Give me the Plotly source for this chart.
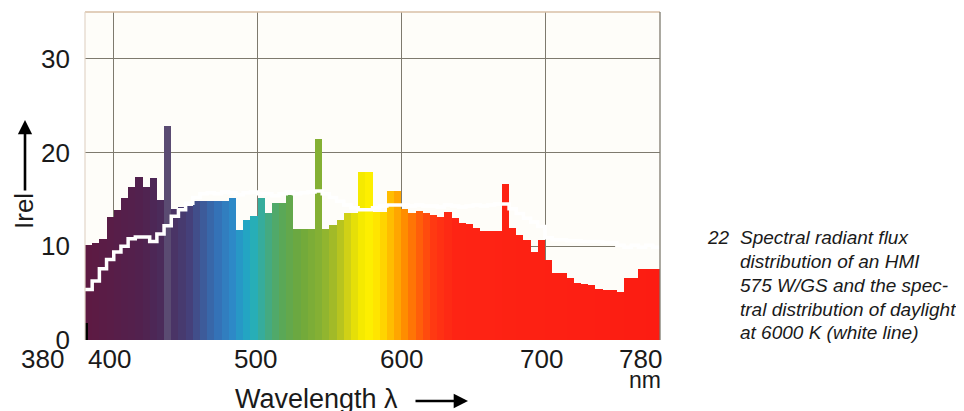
import plotly.graph_objects as go

# ---------------- data ----------------
bin_start = list(range(380, 780, 5))          # 5 nm bins, 380 ... 775
hmi = [10.1, 10.4, 10.8, 13.1, 13.9, 15.2, 16.3, 17.4, 16.3, 17.3,
       14.9, 22.8, 14.0, 14.2, 14.3, 14.8, 14.8, 14.8, 14.8, 14.8,
       15.1, 11.7, 12.8, 13.2, 15.1, 13.5, 14.6, 14.6, 15.5, 11.8,
       11.8, 11.8, 21.4, 11.8, 12.3, 12.8, 13.5, 13.5, 17.9, 17.9,
       13.7, 13.7, 15.9, 15.9, 14.0, 13.6, 13.8, 13.6, 13.3, 13.1,
       13.7, 13.0, 12.5, 12.4, 11.9, 11.6, 11.6, 11.6, 16.6, 12.0,
       11.2, 10.7, 9.4, 10.7, 8.5, 7.1, 7.1, 6.6, 6.1, 6.0,
       5.9, 5.4, 5.3, 5.3, 5.1, 6.6, 6.6, 7.6, 7.6, 7.6]
daylight = [5.4, 6.3, 7.6, 8.6, 9.4, 10.0, 10.8, 11.0, 11.0, 10.5,
            11.3, 12.2, 13.2, 13.9, 14.6, 15.2, 15.6, 15.7, 15.6, 15.8,
            15.7, 15.5, 15.7, 15.8, 15.6, 15.6, 15.4, 15.6, 15.8, 15.6,
            15.7, 15.8, 15.9, 15.6, 15.2, 14.8, 14.4, 14.1, 13.9, 13.9,
            14.1, 14.3, 14.4, 14.4, 14.4, 14.3, 14.4, 14.3, 14.3, 14.2,
            14.4, 14.3, 14.2, 14.3, 14.4, 14.3, 14.4, 14.5, 14.5, 14.0,
            13.5, 13.0, 12.6, 12.1, 10.9, 10.7, 10.7, 10.6, 10.6, 10.5,
            10.5, 10.5, 10.4, 10.4, 10.1, 9.9, 10.1, 9.9, 10.1, 9.9]
mark_x = [381.2]
mark_h = [2.1]
y_ticks = [0, 10, 20, 30]
x_tick_vals = [380, 400, 500, 600, 700, 780]
x_tick_text = ["380", "400", "500", "600", "700", "780"]
caption_lines = ["Spectral radiant flux",
                 "distribution of an HMI",
                 "575 W/GS and the spec-",
                 "tral distribution of daylight",
                 "at 6000 K (white line)"]

BIN = 5
centers = [s + BIN / 2 for s in bin_start]
edges = bin_start + [bin_start[-1] + BIN]
day_steps = daylight + [daylight[-1]]

# spectral colour scale (wavelength -> colour)
stops = [(380, "#5e1a42"), (400, "#581d48"), (420, "#51224f"), (432.5, "#4b2b5a"),
         (437.5, "#5a4b72"), (442.5, "#4a3466"), (452, "#453f78"), (462, "#3d5a99"),
         (472, "#3471b6"), (482, "#2e88c7"), (491, "#22a2c6"), (498, "#27afb6"),
         (506, "#41aa88"), (516, "#58a85a"), (530, "#6fa83c"), (545, "#88b232"),
         (555, "#aabd24"), (563, "#d2d215"), (571, "#f3e900"), (579, "#fff000"),
         (587, "#ffd600"), (595, "#ffb200"), (603, "#ff8a00"), (612, "#ff600a"),
         (622, "#ff3a12"), (636, "#fe2414"), (780, "#fc1c12")]
lo, hi = 380, 780
cscale = [[(w - lo) / (hi - lo), c] for w, c in stops]

FONT = "Liberation Sans, Arial, Helvetica, sans-serif"
GRID = "#7e7a6e"
TXT = "#1a1a1a"

# page body has an 8 px default margin, so the figure is placed 8 px in
L, T, PW, PH = 77, 4, 575, 328

fig = go.Figure()
fig.add_trace(go.Bar(x=centers, y=hmi, width=BIN,
                     marker=dict(color=centers, colorscale=cscale, cmin=lo, cmax=hi,
                                 line=dict(width=0)),
                     hoverinfo="skip", showlegend=False))
fig.add_trace(go.Bar(x=mark_x, y=mark_h, base=-0.3, width=2.4,
                     marker=dict(color="black", line=dict(width=0)),
                     hoverinfo="skip", showlegend=False))
fig.add_trace(go.Scatter(x=edges, y=day_steps, mode="lines",
                         line=dict(color="white", width=3.5, shape="hv"),
                         hoverinfo="skip", showlegend=False))

fig.update_layout(
    width=964, height=411,
    margin=dict(l=L, r=964 - L - PW, t=T, b=411 - T - PH, autoexpand=False),
    paper_bgcolor="white", plot_bgcolor="#fefdf9",
    barmode="overlay", bargap=0,
    font=dict(family=FONT, color=TXT),
    xaxis=dict(range=[380, 780], tickvals=[400, 500, 600, 700], automargin=False,
               showticklabels=False, ticks="", showgrid=True,
               gridcolor=GRID, gridwidth=1.3, zeroline=False, showline=False),
    yaxis=dict(range=[0, 35], tickvals=y_ticks, ticks="", automargin=False,
               tickfont=dict(size=26, family=FONT, color=TXT),
               ticklabelstandoff=14, showgrid=True, gridcolor=GRID, gridwidth=1.3,
               zeroline=False, showline=False),
)

# frame
fig.add_shape(type="line", xref="paper", yref="paper", x0=0, x1=1, y0=1, y1=1,
              line=dict(color="#d8bfa6", width=1.3))
fig.add_shape(type="line", xref="paper", yref="paper", x0=0, x1=0, y0=0, y1=1,
              line=dict(color="#e2d6c8", width=1.2))
fig.add_shape(type="line", xref="paper", yref="paper", x0=1, x1=1, y0=0, y1=1,
              line=dict(color=GRID, width=1.3))

# helpers: positions measured in the screenshot (plot area 85..660, 12..340)
def px(xpix):
    return (xpix - 85) / PW

def py(ypix):
    return (340 - ypix) / PH

# x tick labels
shifts = {380: -19, 400: -4, 500: -2, 600: 0, 700: -4, 780: 4}
anchors = {380: "right", 780: "right"}
for v, t in zip(x_tick_vals, x_tick_text):
    fig.add_annotation(x=v, y=py(359), xref="x", yref="paper", text=t,
                       showarrow=False, xanchor=anchors.get(v, "center"),
                       yanchor="middle", xshift=shifts[v],
                       font=dict(size=26, family=FONT, color=TXT))
fig.add_annotation(x=780, y=py(380), xref="x", yref="paper", text="nm",
                   showarrow=False, xanchor="right", yanchor="middle", xshift=3,
                   font=dict(size=23, family=FONT, color=TXT))

# axis titles and arrows
fig.add_annotation(x=px(24), y=py(211), xref="paper", yref="paper", text="Irel",
                   textangle=-90, showarrow=False, xanchor="center", yanchor="middle",
                   font=dict(size=26, family=FONT, color=TXT))
fig.add_annotation(x=px(25), y=py(120), xref="paper", yref="paper", text="",
                   showarrow=True, ax=0, ay=72, arrowhead=2, arrowsize=1.1,
                   arrowwidth=2.6, arrowcolor="black")
fig.add_annotation(x=px(316), y=py(399), xref="paper", yref="paper", text="Wavelength λ",
                   showarrow=False, xanchor="center", yanchor="middle",
                   font=dict(size=27, family=FONT, color=TXT))
fig.add_annotation(x=px(468), y=py(401), xref="paper", yref="paper",
                   text="", showarrow=True, ax=-54, ay=0, arrowhead=2, arrowsize=1.1,
                   arrowwidth=2.6, arrowcolor="black")

# caption
fig.add_annotation(x=px(705), y=py(238), xref="paper", yref="paper",
                   text="<i>22</i>", showarrow=False, xanchor="left", yanchor="middle",
                   font=dict(size=19, family=FONT, color=TXT))
for i, line in enumerate(caption_lines):
    yc = 238 + i * 23.7
    fig.add_annotation(x=px(738), y=py(yc), xref="paper", yref="paper",
                       text="<i>" + line + "</i>", showarrow=False, xanchor="left",
                       yanchor="middle", align="left",
                       font=dict(size=19, family=FONT, color=TXT))

fig.write_html("out.html")
